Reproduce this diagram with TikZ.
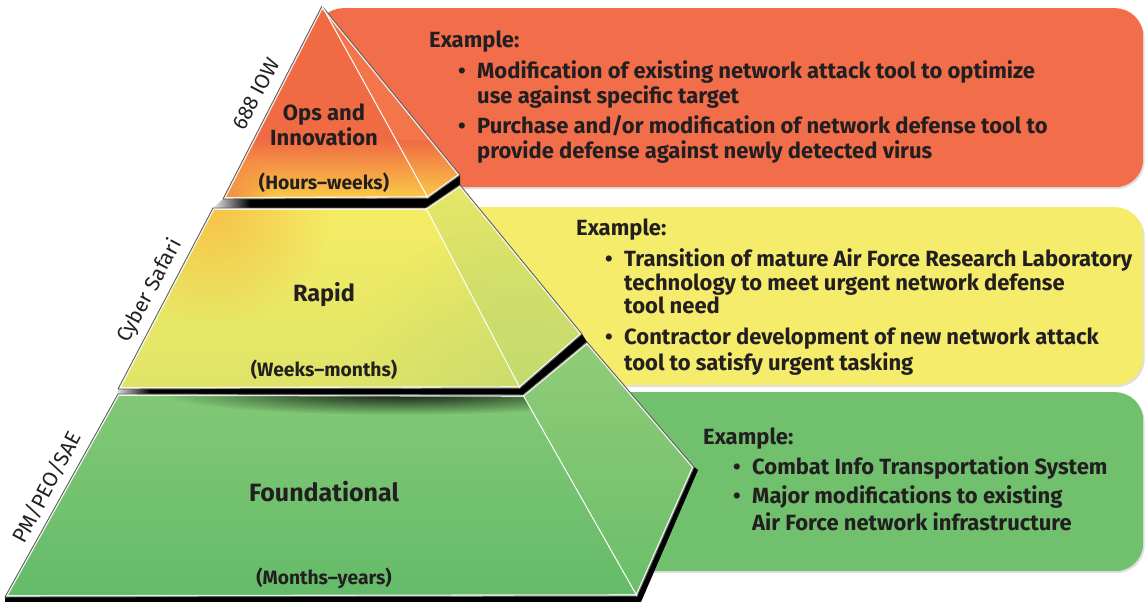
\documentclass[tikz,border=0pt]{standalone}
\usepackage{fontspec}
\setmainfont{Fira Sans}
\usetikzlibrary{fadings,shadows}

\definecolor{txt}{RGB}{35,31,32}
\definecolor{edgegray}{RGB}{95,95,95}
\definecolor{panelred}{RGB}{242,110,75}
\definecolor{panelyel}{RGB}{244,236,106}
\definecolor{panelgrn}{RGB}{112,192,110}
\definecolor{opsA}{RGB}{240,106,68}
\definecolor{opsB}{RGB}{250,206,70}
\definecolor{opsSideA}{RGB}{243,118,74}
\definecolor{rapA}{RGB}{245,236,100}
\definecolor{rapB}{RGB}{222,228,104}
\definecolor{rapGlow}{RGB}{246,180,60}
\definecolor{rapGreen}{RGB}{196,218,110}
\definecolor{rapSideA}{RGB}{228,230,102}
\definecolor{rapSideB}{RGB}{200,220,110}
\definecolor{fndA}{RGB}{130,200,118}
\definecolor{fndB}{RGB}{100,187,105}
\definecolor{fndSideA}{RGB}{145,204,120}
\definecolor{fndSideB}{RGB}{106,190,106}

\tikzfading[name=glow, inner color=transparent!0, outer color=transparent!100]
\tikzfading[name=fadetoright, left color=transparent!0, right color=transparent!100]

\tikzset{
  panel/.style={rounded corners=28pt, draw=none, anchor=north west, inner sep=0pt,
    drop shadow={shadow xshift=1.5pt, shadow yshift=-2pt, opacity=0.12, fill=black}},
  facestroke/.style={draw=edgegray, line width=0.9pt, line join=round},
  bevel/.style={draw=white, line width=3.6pt, opacity=0.85, line join=round},
  ridge/.style={draw=white, line width=1pt},
  head/.style={font=\fontsize{22}{25}\selectfont\bfseries, text=txt, anchor=base west, inner sep=0pt},
  item/.style={head},
  dot/.style={head},
  tiername/.style={font=\fontsize{22}{25}\selectfont\bfseries, text=txt, anchor=base, inner sep=0pt},
  tierspan/.style={font=\fontsize{19.3}{22}\selectfont\bfseries, text=txt, anchor=base, inner sep=0pt},
  sidelabel/.style={font=\fontsize{21}{24}\selectfont, text=txt, inner sep=0pt, rotate=62},
}

\begin{document}
\begin{tikzpicture}[x=1pt,y=-1pt]
\useasboundingbox (0,0) rectangle (1146,602);

% ---------- example panels (behind the pyramid) ----------
\node[panel, fill=panelred, minimum width=828pt, minimum height=179pt] (redpanel) at (315,8) {};
\node[panel, fill=panelyel, minimum width=703pt, minimum height=178pt] (yelpanel) at (440,207) {};
\node[panel, fill=panelgrn, minimum width=583pt, minimum height=179pt] (grnpanel) at (560,392) {};

% ---------- pyramid corners ----------
\coordinate (apex) at (322,6);
\coordinate (t1) at (223,199);
\coordinate (t2) at (428,198);
\coordinate (t3) at (460,175);
\coordinate (m1) at (213,208);
\coordinate (m2) at (426,208);
\coordinate (m3) at (460,185);
\coordinate (m4) at (582,334);
\coordinate (m5) at (520,388);
\coordinate (m6) at (118,389);
\coordinate (b1) at (118,394);
\coordinate (b2) at (523,395);
\coordinate (b3) at (587,342);
\coordinate (b4) at (694,467);
\coordinate (b5) at (637,596);
\coordinate (b6) at (5,597);

% ---------- cast shadows between the tiers ----------
\fill[black] (t1) -- (t2) -- (t3) -- (m3) -- (m2) -- (m1) -- cycle;
\fill[white, path fading=fadetoright] (210,197) rectangle (250,209);
\fill[black] (m6) -- (m5) -- (m4) -- (b3) -- (b2) -- (b1) -- cycle;
\fill[white, path fading=fadetoright] (112,387) rectangle (150,396);
\fill[black] (b6) -- (b5) -- (b4) -- (698,470) -- (641,602) -- (5,602) -- cycle;

% ---------- Foundational tier ----------
\shade[top color=fndA, bottom color=fndB] (b1) -- (b2) -- (b5) -- (b6) -- cycle;
\shade[top color=fndSideA, bottom color=fndSideB] (b2) -- (b3) -- (b4) -- (b5) -- cycle;
\begin{scope}
  \clip (b1) -- (b2) -- (b5) -- (b6) -- cycle;
  \fill[black, opacity=0.9, path fading=glow] (400,393) ellipse (240 and 22);
\end{scope}
\begin{scope}
  \clip (b1) -- (b2) -- (b3) -- (b4) -- (b5) -- (b6) -- cycle;
  \draw[bevel] (b1) -- (b2) -- (b3) -- (b4) -- (b5) -- (b6) -- cycle;
\end{scope}
\draw[facestroke] (b1) -- (b2) -- (b3) -- (b4) -- (b5) -- (b6) -- cycle;
\draw[ridge] (b2) -- (b5);

% ---------- Rapid tier ----------
\shade[top color=rapA, bottom color=rapB] (m1) -- (m2) -- (m5) -- (m6) -- cycle;
\shade[top color=rapSideA, bottom color=rapSideB] (m2) -- (m3) -- (m4) -- (m5) -- cycle;
\begin{scope}
  \clip (m1) -- (m2) -- (m3) -- (m4) -- (m5) -- (m6) -- cycle;
  \fill[rapGlow, opacity=0.75, path fading=glow] (212,206) circle (120);
  \fill[rapGreen, opacity=0.7, path fading=glow] (520,390) circle (170);
  \draw[bevel] (m1) -- (m2) -- (m3) -- (m4) -- (m5) -- (m6) -- cycle;
\end{scope}
\draw[facestroke] (m1) -- (m2) -- (m3) -- (m4) -- (m5) -- (m6) -- cycle;
\draw[ridge] (m2) -- (m5);

% ---------- Ops and Innovation tier ----------
\fill[opsA] (apex) -- (t1) -- (t2) -- cycle;
\fill[opsSideA] (apex) -- (t2) -- (t3) -- cycle;
\begin{scope}
  \clip (apex) -- (t1) -- (t2) -- (t3) -- cycle;
  \shade[top color=opsA, bottom color=opsB] (215,140) rectangle (465,200);
  \fill[opsA, opacity=0.6, path fading=glow] (230,200) circle (45);
  \draw[bevel] (apex) -- (t1) -- (t2) -- (t3) -- cycle;
\end{scope}
\draw[facestroke] (apex) -- (t1) -- (t2) -- (t3) -- cycle;
\draw[ridge] (apex) -- (t2);

% ---------- tier labels ----------
\node[tiername] (opsname1) at (324,120) {Ops and};
\node[tiername] (opsname2) at (324,145) {Innovation};
\node[tierspan] (opsspan) at (324,189) {(Hours–weeks)};
\node[tiername, font=\fontsize{23.5}{26}\selectfont\bfseries] (rapname) at (324,301) {Rapid};
\node[tierspan] (rapspan) at (324,376) {(Weeks–months)};
\node[tiername, font=\fontsize{25}{28}\selectfont\bfseries] (fndname) at (324,501) {Foundational};
\node[tierspan] (fndspan) at (324,584) {(Months–years)};

% ---------- organisation labels along the left edges ----------
\node[sidelabel] (iow) at (256,94) {688 IOW};
\node[sidelabel] (safari) at (150,291) {Cyber Safari};
\node[sidelabel] (pmpeo) at (47,487) {PM/PEO/SAE};

% ---------- red panel text ----------
\node[head] (redhead) at (429,48) {Example:};
\node[dot] (reddot1) at (458,78) {•};
\node[item] (red1a) at (477,78) {Modification of existing network attack tool to optimize};
\node[item] (red1b) at (477,103) {use against specific target};
\node[dot] (reddot2) at (458,133) {•};
\node[item] (red2a) at (477,133) {Purchase and/or modification of network defense tool to};
\node[item] (red2b) at (477,158) {provide defense against newly detected virus};

% ---------- yellow panel text ----------
\node[head] (yelhead) at (576,235) {Example:};
\node[dot] (yeldot1) at (605,266) {•};
\node[item] (yel1a) at (624,266) {Transition of mature Air Force Research Laboratory};
\node[item] (yel1b) at (624,290) {technology to meet urgent network defense};
\node[item] (yel1c) at (624,313) {tool need};
\node[dot] (yeldot2) at (605,344) {•};
\node[item] (yel2a) at (624,344) {Contractor development of new network attack};
\node[item] (yel2b) at (624,370) {tool to satisfy urgent tasking};

% ---------- green panel text ----------
\node[head] (grnhead) at (703,444) {Example:};
\node[dot] (grndot1) at (733,474) {•};
\node[item] (grn1a) at (752,474) {Combat Info Transportation System};
\node[dot] (grndot2) at (733,503) {•};
\node[item] (grn2a) at (752,503) {Major modifications to existing};
\node[item] (grn2b) at (752,530) {Air Force network infrastructure};
\end{tikzpicture}
\end{document}
